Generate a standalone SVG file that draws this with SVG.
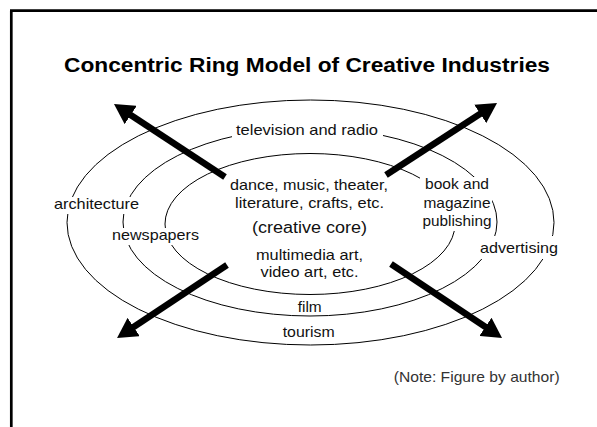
<svg xmlns="http://www.w3.org/2000/svg" width="597" height="427" viewBox="0 0 597 427">
  <defs>
    <style>
      .frame { stroke: #000; stroke-width: 2.7; fill: none; }
      .ring { fill: none; stroke: #000; stroke-width: 1; }
      .knock { fill: #fff; stroke: none; }
      .lbl { font-family: "Liberation Sans", Arial, Helvetica, sans-serif; font-size: 14.5px; fill: #111; }
      .title { font-family: "Liberation Sans", Arial, Helvetica, sans-serif; font-size: 19.5px; font-weight: bold; fill: #000; }
      .core { font-size: 16px; }
      .note { font-family: "Liberation Sans", Arial, Helvetica, sans-serif; font-size: 15px; fill: #333; }
      .arrow { stroke: #000; stroke-width: 6.5; fill: none; marker-end: url(#head); }
    </style>
    <marker id="head" viewBox="0 0 20 22" refX="6" refY="11" markerWidth="20" markerHeight="22" markerUnits="userSpaceOnUse" orient="auto">
      <path d="M0,0 L20,11 L0,22 z" fill="#000"/>
    </marker>
  </defs>

  <rect width="597" height="427" fill="#fff"/>
  <g id="frame">
    <line class="frame" x1="11.3" y1="10.7" x2="11.3" y2="427"/>
    <line class="frame" x1="10" y1="10.7" x2="597" y2="10.7"/>
  </g>

  <text id="title" class="title" x="64" y="71.5" textLength="486" lengthAdjust="spacingAndGlyphs">Concentric Ring Model of Creative Industries</text>

  <g id="rings">
    <ellipse id="ring-outer" class="ring" cx="310.5" cy="222.5" rx="243.5" ry="122.5"/>
    <ellipse id="ring-middle" class="ring" cx="310" cy="222" rx="187" ry="94"/>
    <ellipse id="ring-inner" class="ring" cx="310" cy="224" rx="145" ry="70.5"/>
  </g>

  <g id="core">
    <text class="lbl" x="230" y="190" textLength="158" lengthAdjust="spacingAndGlyphs">dance, music, theater,</text>
    <text class="lbl" x="235" y="207.5" textLength="149" lengthAdjust="spacingAndGlyphs">literature, crafts, etc.</text>
    <text class="lbl core" x="252" y="233" textLength="115" lengthAdjust="spacingAndGlyphs">(creative core)</text>
    <text class="lbl" x="256" y="260" textLength="107" lengthAdjust="spacingAndGlyphs">multimedia art,</text>
    <text class="lbl" x="260.5" y="277.3" textLength="98" lengthAdjust="spacingAndGlyphs">video art, etc.</text>
  </g>

  <g id="television">
    <rect class="knock" x="232" y="122" width="151" height="18"/>
    <text class="lbl" x="236" y="135" textLength="142" lengthAdjust="spacingAndGlyphs">television and radio</text>
  </g>

  <g id="publishing">
    <rect class="knock" x="420" y="177" width="72" height="54"/>
    <text class="lbl" x="425" y="189" textLength="64" lengthAdjust="spacingAndGlyphs">book and</text>
    <text class="lbl" x="423.5" y="207.7" textLength="67" lengthAdjust="spacingAndGlyphs">magazine</text>
    <text class="lbl" x="422.5" y="225.7" textLength="69" lengthAdjust="spacingAndGlyphs">publishing</text>
  </g>

  <g id="advertising">
    <rect class="knock" x="477" y="236" width="84" height="23"/>
    <text class="lbl" x="480" y="253.3" textLength="78" lengthAdjust="spacingAndGlyphs">advertising</text>
  </g>

  <g id="architecture">
    <rect class="knock" x="51" y="197" width="91" height="17"/>
    <text class="lbl" x="54" y="209.3" textLength="85" lengthAdjust="spacingAndGlyphs">architecture</text>
  </g>

  <g id="newspapers">
    <rect class="knock" x="109" y="228" width="93" height="17"/>
    <text class="lbl" x="112" y="240" textLength="87" lengthAdjust="spacingAndGlyphs">newspapers</text>
  </g>

  <g id="film">
    <text class="lbl" x="297.7" y="311.5" textLength="24" lengthAdjust="spacingAndGlyphs">film</text>
  </g>

  <g id="tourism">
    <text class="lbl" x="282.7" y="337" textLength="52" lengthAdjust="spacingAndGlyphs">tourism</text>
  </g>

  <g id="connectors">
    <line class="arrow" x1="225" y1="177" x2="125.7" y2="111.7"/>
    <line class="arrow" x1="386" y1="175" x2="485.3" y2="110.6"/>
    <line class="arrow" x1="227" y1="265" x2="128.7" y2="330.3"/>
    <line class="arrow" x1="391" y1="264" x2="490.4" y2="330.2"/>
  </g>

  <text id="note" class="note" x="393.7" y="382" textLength="166" lengthAdjust="spacingAndGlyphs">(Note: Figure by author)</text>
</svg>
